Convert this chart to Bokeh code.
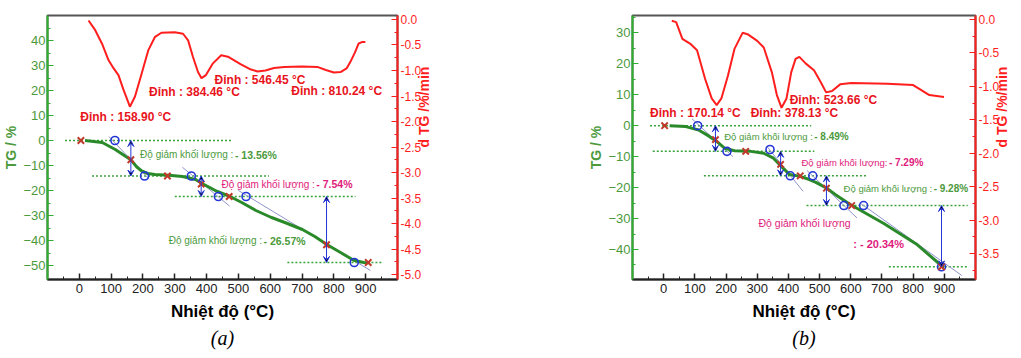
import math
from bokeh.plotting import figure
from bokeh.models import (Range1d, LinearAxis, FixedTicker, NumeralTickFormatter,
                          ColumnDataSource, Arrow, VeeHead, Title)
from bokeh.layouts import row
from bokeh.embed import file_html
from bokeh.resources import INLINE
from bokeh.core.properties import value

# ---------------- panel (a) data ----------------
a_dtg_temp = [29, 50, 71, 92, 108, 123, 139, 159, 175, 196, 217, 238, 258, 300, 326, 342, 357, 373,
              384, 398, 420, 446, 467, 508, 535, 560, 585, 612, 644, 700, 748, 775, 800, 821, 840,
              852, 866, 878, 890, 899]
a_dtg = [-0.02, -0.21, -0.47, -0.80, -0.96, -1.09, -1.38, -1.71, -1.51, -1.06, -0.60, -0.34, -0.26,
         -0.25, -0.28, -0.41, -0.73, -1.03, -1.15, -1.09, -0.86, -0.70, -0.73, -0.88, -0.97, -1.02,
         -1.00, -0.95, -0.93, -0.92, -0.93, -0.99, -1.04, -1.03, -0.96, -0.83, -0.65, -0.47, -0.44, -0.44]
a_tg_temp = [18, 72, 113, 145, 162, 180, 196, 215, 237, 282, 324, 365, 387, 410, 430, 472, 509, 555,
             602, 650, 701, 740, 779, 821, 862, 894, 912]
a_tg = [0.0, -0.8, -3.6, -6.3, -7.7, -10.5, -12.2, -13.2, -13.6, -13.9, -14.4, -15.6, -17.3, -18.8,
        -20.2, -22.3, -24.7, -28.0, -30.7, -33.0, -35.6, -38.4, -41.7, -44.8, -47.9, -48.8, -48.9]
a_onset_temp = [112, 205, 352, 437, 524, 864]
a_onset_tg = [0.0, -14.2, -14.2, -22.4, -22.4, -48.8]
a_mark_temp = [5, 162, 277, 383, 471, 777, 908]
a_mark_tg = [0.0, -7.7, -14.2, -17.4, -22.4, -41.7, -48.8]
a_level_tg = [0.0, -14.2, -22.4, -48.8]
a_level_from = [-45, 40, 300, 654]
a_level_to = [482, 596, 868, 951]
a_tan_x0 = [93, 324, 500]
a_tan_y0 = [1.6, -10.7, -20.0]
a_tan_x1 = [220, 472, 915]
a_tan_y1 = [-15.5, -26.2, -52.0]
a_step_temp = [162, 383, 777]
a_step_top = [0.0, -14.2, -22.4]
a_step_bottom = [-14.2, -22.4, -48.8]
a_peak_text = ["Đỉnh : 158.90 °C", "Đỉnh : 384.46 °C", "Đỉnh : 546.45 °C", "Đỉnh : 810.24 °C"]
a_peak_x = [3, 219, 425, 666]
a_peak_y = [9.5, 19.4, 24.2, 19.8]
a_loss_text = ["Độ giảm khối lượng :", "Độ giảm khối lượng :", "Độ giảm khối lượng :"]
a_loss_value = ["- 13.56%", "- 7.54%", "- 26.57%"]
a_loss_x = [191, 447, 281]
a_loss_y = [-5.6, -17.5, -40.0]
a_loss_kind = ["g", "m", "g"]

# ---------------- panel (b) data ----------------
b_dtg_temp = [26, 40, 60, 87, 107, 133, 154, 170, 185, 206, 227, 253, 269, 300, 321, 347, 363, 378,
              394, 409, 423, 435, 456, 482, 503, 521, 540, 566, 602, 717, 800, 821, 852, 899]
b_dtg = [-0.02, -0.04, -0.29, -0.37, -0.46, -0.89, -1.18, -1.28, -1.18, -0.84, -0.44, -0.20, -0.22,
         -0.32, -0.42, -0.79, -1.13, -1.32, -1.18, -0.79, -0.59, -0.56, -0.66, -0.76, -0.93, -1.09,
         -1.07, -0.97, -0.95, -0.96, -0.98, -1.04, -1.13, -1.16]
b_tg_temp = [19, 71, 112, 144, 170, 196, 227, 279, 321, 352, 383, 404, 435, 467, 488, 523, 550, 597,
             706, 810, 894, 900]
b_tg = [0.0, -0.3, -1.4, -3.3, -5.1, -7.3, -8.1, -8.3, -8.9, -10.5, -13.7, -15.8, -16.3, -17.4,
        -18.3, -20.2, -22.2, -25.4, -31.6, -38.2, -45.5, -45.7]
b_onset_temp = [109, 203, 341, 406, 478, 578, 641, 891]
b_onset_tg = [0.0, -8.3, -7.7, -16.2, -16.2, -25.8, -25.8, -45.6]
b_mark_temp = [3, 166, 263, 375, 438, 522, 603, 891]
b_mark_tg = [0.0, -4.5, -8.3, -12.5, -16.2, -20.2, -25.8, -45.6]
b_level_tg = [0.0, -8.3, -16.2, -25.8, -45.6]
b_level_from = [-44, -35, 129, 458, 722]
b_level_to = [473, 483, 652, 975, 978]
b_tan_x0 = [91, 331, 460, 630]
b_tan_y0 = [2.2, -6.7, -14.5, -25.0]
b_tan_x1 = [222, 447, 620, 956]
b_tan_y1 = [-10.0, -21.2, -29.8, -48.4]
b_step_temp = [166, 375, 522, 891]
b_step_top = [0.0, -8.3, -16.2, -25.8]
b_step_bottom = [-8.3, -16.2, -25.8, -45.6]
b_peak_text = ["Đỉnh : 170.14 °C", "Đỉnh: 378.13 °C", "Đỉnh: 523.66 °C"]
b_peak_x = [-44, 279, 404]
b_peak_y = [4.2, 4.2, 8.3]
b_loss_text = ["Độ giảm khối lượng :", "Độ giảm khối lượng:", "Độ giảm khối lượng :"]
b_loss_value = ["- 8.49%", "- 7.29%", "- 9.28%"]
b_loss_x = [194, 442, 577]
b_loss_y = [-3.5, -11.9, -20.2]
b_loss_kind = ["g", "m", "g"]
b_extra_text = ["Độ giảm khối lượng"]
b_extra_x = [304]
b_extra_y = [-31.4]
b_extra_value = [": - 20.34%"]
b_extra_vx = [608]
b_extra_vy = [-38.1]

x_ticks = [0, 100, 200, 300, 400, 500, 600, 700, 800, 900]
x_minor = [-50, 50, 150, 250, 350, 450, 550, 650, 750, 850, 950]

GREEN_AX = "#2fae2f"
GREEN_TXT = "#4c9a3c"
GREEN_LINE = "#2a8a2a"
RED = "#ff1e1e"
RED_TXT = "#e8141c"
MAGENTA = "#e01a7c"
BLUE = "#2436d6"
XRED = "#c0392b"
TAN = "#8f93cc"
FONT = "Liberation Sans"


def make_panel(cap, width, bl, br, bt, bb, tg_range, dtg_range, tg_ticks,
               tg_minor, dtg_ticks, dtg_minor, d, fs1, fs2):
    p = figure(width=width, height=358, x_range=Range1d(-100, 1000),
               y_range=Range1d(*tg_range), output_backend="svg", toolbar_location=None,
               min_border_left=bl, min_border_right=br, min_border_top=bt, min_border_bottom=bb)
    p.extra_y_ranges = {"dtg": Range1d(*dtg_range)}
    p.grid.visible = False
    p.outline_line_color = "#555555"
    p.outline_line_width = 2
    p.background_fill_color = "white"
    p.border_fill_color = "white"

    xa = p.xaxis[0]
    xa.ticker = FixedTicker(ticks=x_ticks, minor_ticks=x_minor)
    xa.axis_line_color = "#222222"
    xa.axis_line_width = 2
    xa.major_tick_in = 6
    xa.major_tick_out = 0
    xa.minor_tick_in = 3
    xa.minor_tick_out = 0
    xa.major_tick_line_color = "#222222"
    xa.major_tick_line_width = 1.5
    xa.minor_tick_line_color = "#222222"
    xa.major_label_text_font = FONT
    xa.major_label_text_font_size = "13px"
    xa.major_label_text_color = "#222222"
    xa.major_label_standoff = 4
    xa.axis_label = "Nhiệt độ (°C)"
    xa.axis_label_text_font = FONT
    xa.axis_label_text_font_style = "bold"
    xa.axis_label_text_font_size = "17px"
    xa.axis_label_text_color = "black"
    xa.axis_label_standoff = 6

    ya = p.yaxis[0]
    ya.ticker = FixedTicker(ticks=tg_ticks, minor_ticks=tg_minor)
    ya.axis_line_color = GREEN_AX
    ya.axis_line_width = 2
    ya.major_tick_in = 6
    ya.major_tick_out = 0
    ya.minor_tick_in = 3
    ya.minor_tick_out = 0
    ya.major_tick_line_color = GREEN_AX
    ya.minor_tick_line_color = GREEN_AX
    ya.major_label_text_font = FONT
    ya.major_label_text_font_size = "13px"
    ya.major_label_text_color = GREEN_TXT
    ya.major_label_standoff = 2
    ya.axis_label = "TG / %"
    ya.axis_label_text_font = FONT
    ya.axis_label_text_font_style = "bold"
    ya.axis_label_text_font_size = "14px"
    ya.axis_label_text_color = GREEN_TXT
    ya.axis_label_standoff = 1

    ra = LinearAxis(y_range_name="dtg")
    ra.ticker = FixedTicker(ticks=dtg_ticks, minor_ticks=dtg_minor)
    ra.formatter = NumeralTickFormatter(format="0.0")
    ra.axis_line_color = RED
    ra.axis_line_width = 2
    ra.major_tick_in = 6
    ra.major_tick_out = 0
    ra.minor_tick_in = 3
    ra.minor_tick_out = 0
    ra.major_tick_line_color = RED
    ra.minor_tick_line_color = RED
    ra.major_label_text_font = FONT
    ra.major_label_text_font_size = "12px"
    ra.major_label_text_color = RED
    ra.major_label_standoff = 3
    ra.axis_label = "d TG /%/min"
    ra.axis_label_text_font = FONT
    ra.axis_label_text_font_style = "bold"
    ra.axis_label_text_font_size = "14px"
    ra.axis_label_text_color = RED
    ra.axis_label_standoff = 0
    ra.axis_label_orientation = math.pi / 2
    p.add_layout(ra, "right")

    # dotted level lines
    p.segment(x0=d["level_from"], y0=d["level_tg"], x1=d["level_to"], y1=d["level_tg"],
              line_color="#3aa23a", line_width=1.5, line_dash="2 2")
    # tangents
    p.segment(x0=d["tan_x0"], y0=d["tan_y0"], x1=d["tan_x1"], y1=d["tan_y1"],
              line_color=TAN, line_width=1)
    # TG curve
    p.line(d["tg_temp"], d["tg"], line_color=GREEN_LINE, line_width=3)
    # DTG curve
    p.line(d["dtg_temp"], d["dtg"], line_color=RED, line_width=2, y_range_name="dtg")
    # step arrows
    src = ColumnDataSource(dict(x=d["step_temp"], y0=d["step_top"], y1=d["step_bottom"]))
    p.add_layout(Arrow(source=src, x_start="x", y_start="y0", x_end="x", y_end="y1",
                       line_color=BLUE, line_width=1,
                       start=VeeHead(size=6, line_color=BLUE, line_width=1),
                       end=VeeHead(size=6, line_color=BLUE, line_width=1)))
    # markers
    p.scatter(d["onset_temp"], d["onset_tg"], marker="circle", size=8, fill_color=None,
              line_color=BLUE, line_width=1.6)
    p.scatter(d["mark_temp"], d["mark_tg"], marker="x", size=9, line_color=XRED, line_width=2)

    # peak labels
    p.text(x=d["peak_x"], y=d["peak_y"], text=d["peak_text"], text_font=value(FONT),
           text_font_size="12px", text_font_style="bold", text_color=RED_TXT,
           text_align="left", text_baseline="middle")
    # mass-loss labels
    for t, v, x, y, k in zip(d["loss_text"], d["loss_value"], d["loss_x"], d["loss_y"],
                             d["loss_kind"]):
        col = GREEN_TXT if k == "g" else MAGENTA
        off = (9.48 if t.endswith(" :") else 9.2) * fs1
        p.text(x=[x], y=[y], text=[t], text_font=value(FONT), text_font_size=f"{fs1}px",
               text_color=col, text_align="left", text_baseline="middle")
        p.text(x=[x], y=[y], text=[v], text_font=value(FONT), text_font_size=f"{fs2}px",
               text_font_style="bold", text_color=col, text_align="left",
               text_baseline="middle", x_offset=off)
    if "extra_text" in d:
        p.text(x=d["extra_x"], y=d["extra_y"], text=d["extra_text"], text_font=value(FONT),
               text_font_size="10.5px", text_color=MAGENTA, text_align="left",
               text_baseline="middle")
        p.text(x=d["extra_vx"], y=d["extra_vy"], text=d["extra_value"], text_font=value(FONT),
               text_font_size="11px", text_font_style="bold", text_color=MAGENTA,
               text_align="left", text_baseline="middle")

    p.add_layout(Title(text=cap, align="center", text_font="Liberation Serif",
                       text_font_style="italic", text_font_size="20px", text_color="black",
                       standoff=2), "below")
    return p


da = dict(dtg_temp=a_dtg_temp, dtg=a_dtg, tg_temp=a_tg_temp, tg=a_tg,
          onset_temp=a_onset_temp, onset_tg=a_onset_tg, mark_temp=a_mark_temp, mark_tg=a_mark_tg,
          level_tg=a_level_tg, level_from=a_level_from, level_to=a_level_to,
          tan_x0=a_tan_x0, tan_y0=a_tan_y0, tan_x1=a_tan_x1, tan_y1=a_tan_y1,
          step_temp=a_step_temp, step_top=a_step_top, step_bottom=a_step_bottom,
          peak_text=a_peak_text, peak_x=a_peak_x, peak_y=a_peak_y,
          loss_text=a_loss_text, loss_value=a_loss_value, loss_x=a_loss_x, loss_y=a_loss_y,
          loss_kind=a_loss_kind)
db = dict(dtg_temp=b_dtg_temp, dtg=b_dtg, tg_temp=b_tg_temp, tg=b_tg,
          onset_temp=b_onset_temp, onset_tg=b_onset_tg, mark_temp=b_mark_temp, mark_tg=b_mark_tg,
          level_tg=b_level_tg, level_from=b_level_from, level_to=b_level_to,
          tan_x0=b_tan_x0, tan_y0=b_tan_y0, tan_x1=b_tan_x1, tan_y1=b_tan_y1,
          step_temp=b_step_temp, step_top=b_step_top, step_bottom=b_step_bottom,
          peak_text=b_peak_text, peak_x=b_peak_x, peak_y=b_peak_y,
          loss_text=b_loss_text, loss_value=b_loss_value, loss_x=b_loss_x, loss_y=b_loss_y,
          loss_kind=b_loss_kind, extra_text=b_extra_text, extra_x=b_extra_x, extra_y=b_extra_y,
          extra_value=b_extra_value, extra_vx=b_extra_vx, extra_vy=b_extra_vy)

pa = make_panel("(a)", 443, 46, 46, 15, 78, (-55.6, 50.0), (-5.097, 0.078),
                [-50, -40, -30, -20, -10, 0, 10, 20, 30, 40],
                [-45, -35, -25, -15, -5, 5, 15, 25, 35, 45],
                [0.0, -0.5, -1.0, -1.5, -2.0, -2.5, -3.0, -3.5, -4.0, -4.5, -5.0],
                [-0.25, -0.75, -1.25, -1.75, -2.25, -2.75, -3.25, -3.75, -4.25, -4.75],
                da, 10, 10.5)
pb = make_panel("(b)", 578, 189, 44, 13, 79, (-49.7, 35.6), (-3.886, 0.059),
                [-40, -30, -20, -10, 0, 10, 20, 30],
                [-45, -35, -25, -15, -5, 5, 15, 25, 35],
                [0.0, -0.5, -1.0, -1.5, -2.0, -2.5, -3.0, -3.5],
                [-0.25, -0.75, -1.25, -1.75, -2.25, -2.75, -3.25, -3.75],
                db, 9.5, 10)

layout = row(pa, pb)
open("out.html", "w").write(file_html(layout, INLINE))
